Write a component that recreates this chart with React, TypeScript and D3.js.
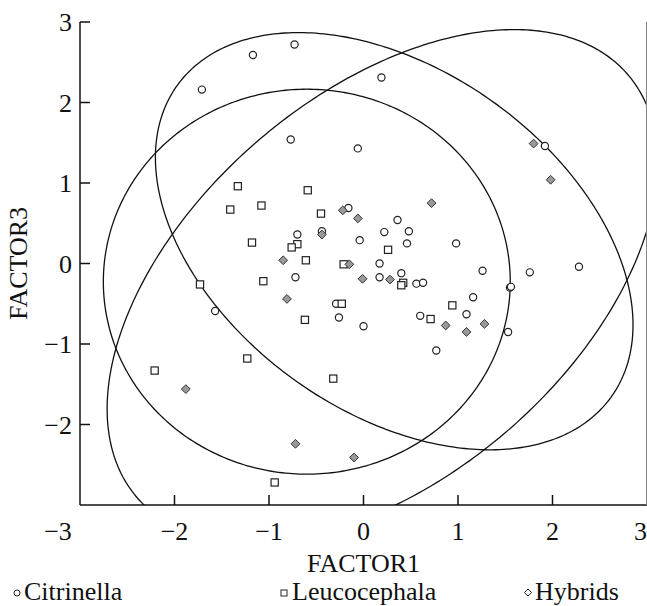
import React from "react";
import * as d3 from "d3";

const W = 647;
const H = 606;

// Citrinella (circles)
const citrinellaX = [-1.71, -1.17, -0.73, 0.19, -0.77, -0.06, 1.92, -0.16, 0.36, -0.70, -0.44, 0.22, 0.48, -0.04, 0.46, 0.98, 0.17, -0.72, 0.17, 0.40, 0.56, 0.63, 1.26, 1.76, 2.28, 1.55, 1.56, 1.16, 1.09, 0.60, -0.29, -0.26, 0.00, 0.77, 1.53, -1.57];
const citrinellaY = [2.16, 2.59, 2.72, 2.31, 1.54, 1.43, 1.46, 0.69, 0.54, 0.36, 0.40, 0.39, 0.40, 0.29, 0.25, 0.25, 0.00, -0.17, -0.17, -0.12, -0.25, -0.24, -0.09, -0.11, -0.04, -0.30, -0.29, -0.42, -0.63, -0.65, -0.50, -0.67, -0.78, -1.08, -0.85, -0.59];

// Leucocephala (squares)
const leucoX = [-1.33, -0.59, -1.41, -1.08, -0.45, -1.18, -0.70, -0.76, -0.61, -0.21, -1.06, 0.26, 0.42, 0.40, 0.94, 0.71, -0.23, -0.62, -1.73, -1.23, -2.21, -0.32, -0.94];
const leucoY = [0.96, 0.91, 0.67, 0.72, 0.62, 0.26, 0.24, 0.20, 0.04, -0.01, -0.22, 0.17, -0.24, -0.27, -0.52, -0.69, -0.50, -0.70, -0.26, -1.18, -1.33, -1.43, -2.72];

// Hybrids (diamonds)
const hybridX = [1.80, 1.98, 0.72, -0.22, -0.06, -0.44, -0.85, -0.15, -0.01, 0.28, -0.81, 0.87, 1.09, 1.28, -1.88, -0.72, -0.10];
const hybridY = [1.49, 1.04, 0.75, 0.66, 0.56, 0.36, 0.04, -0.01, -0.19, -0.20, -0.44, -0.77, -0.85, -0.75, -1.56, -2.24, -2.41];

// Ellipses (data units): center, semi-axes, rotation (deg)
const ellCx = [0.325, -0.60, 0.2];
const ellCy = [0.277, -0.226, -0.28];
const ellA = [3.03, 2.153, 3.72];
const ellB = [1.98, 2.391, 2.19];
const ellAngle = [-46.8, 0, 50.3];

const xTicks = [-3, -2, -1, 0, 1, 2, 3];
const xTickLabels = ["\u22123", "\u22122", "\u22121", "0", "1", "2", "3"];
const yTicks = [-2, -1, 0, 1, 2, 3];
const yTickLabels = ["\u22122", "\u22121", "0", "1", "2", "3"];

const legendNames = ["Citrinella", "Leucocephala", "Hybrids"];

const FONT = "'Liberation Serif', 'Times New Roman', serif";

export default function App() {
  const left = 80, right = 647, top = 22, bottom = 505;
  const x = d3.scaleLinear().domain([-3, 3]).range([left, right]);
  const y = d3.scaleLinear().domain([-3, 3]).range([bottom, top]);

  const line = d3.line<[number, number]>().x(d => x(d[0])).y(d => y(d[1])).curve(d3.curveLinearClosed);
  const ellipsePaths = ellCx.map((cx, i) => {
    const th = (ellAngle[i] * Math.PI) / 180;
    const pts: [number, number][] = d3.range(0, 360, 1).map(deg => {
      const t = (deg * Math.PI) / 180;
      const ex = ellA[i] * Math.cos(t);
      const ey = ellB[i] * Math.sin(t);
      return [cx + ex * Math.cos(th) - ey * Math.sin(th), ellCy[i] + ex * Math.sin(th) + ey * Math.cos(th)];
    });
    return line(pts) as string;
  });

  const r = 3.6;
  const sq = 7.2;
  const dm = 4.4;

  const legendItems = [
    { name: legendNames[0], mx: 17, tx: 24 },
    { name: legendNames[1], mx: 284, tx: 292 },
    { name: legendNames[2], mx: 528, tx: 535 },
  ];
  const legendBase = 600;
  const ink = "#111";

  return (
    <svg width={W} height={H} style={{ position: "absolute", left: 0, top: 0, background: "#fff" }} fontFamily={FONT}>
      <defs>
        <clipPath id="plotclip">
          <rect x={left} y={0} width={right - 1 - left} height={bottom} />
        </clipPath>
      </defs>
      <rect x={0} y={0} width={W} height={H} fill="#fff" />

      {/* ellipses */}
      <g clipPath="url(#plotclip)">
        {ellipsePaths.map((p, i) => (
          <path key={i} d={p} fill="none" stroke={ink} strokeWidth={1.3} />
        ))}
      </g>

      {/* axes */}
      <line x1={left} x2={left} y1={top} y2={bottom} stroke={ink} strokeWidth={1.5} />
      <line x1={left} x2={right} y1={bottom} y2={bottom} stroke={ink} strokeWidth={1.5} />
      <line x1={right - 0.5} x2={right - 0.5} y1={top} y2={bottom} stroke="#888" strokeWidth={1} />

      {yTicks.map((t, i) => (
        <g key={"y" + t}>
          <line x1={left} x2={left + 10} y1={y(t)} y2={y(t)} stroke={ink} strokeWidth={1.5} />
          <text x={72} y={y(t)} dy="0.35em" textAnchor="end" fontSize={26} fill={ink}>{yTickLabels[i]}</text>
        </g>
      ))}
      {xTicks.map((t, i) => (
        <g key={"x" + t}>
          {t > -3 && t < 3 && (
            <line x1={x(t)} x2={x(t)} y1={bottom} y2={bottom - 10} stroke={ink} strokeWidth={1.5} />
          )}
          <text
            x={t === -3 ? x(t) - 22 : t === 3 ? right : x(t)}
            y={540}
            textAnchor={t === 3 ? "end" : "middle"}
            fontSize={26}
            fill={ink}
          >
            {xTickLabels[i]}
          </text>
        </g>
      ))}

      <text x={x(0)} y={572} textAnchor="middle" fontSize={26} fill={ink}>FACTOR1</text>
      <text transform={`translate(27, ${y(0)}) rotate(-90)`} textAnchor="middle" fontSize={26} fill={ink}>FACTOR3</text>

      {/* points */}
      {citrinellaX.map((v, i) => (
        <circle key={"c" + i} cx={x(v)} cy={y(citrinellaY[i])} r={r} fill="#fff" stroke="#222" strokeWidth={1.2} />
      ))}
      {leucoX.map((v, i) => (
        <rect key={"s" + i} x={x(v) - sq / 2} y={y(leucoY[i]) - sq / 2} width={sq} height={sq} fill="#fff" stroke="#222" strokeWidth={1.2} />
      ))}
      {hybridX.map((v, i) => {
        const cx = x(v), cy = y(hybridY[i]);
        return (
          <path key={"d" + i} d={`M${cx},${cy - dm}L${cx + dm},${cy}L${cx},${cy + dm}L${cx - dm},${cy}Z`} fill="#999" stroke="#333" strokeWidth={1} />
        );
      })}

      {/* legend */}
      {legendItems.map((it, i) => (
        <g key={"l" + i}>
          {i === 0 && <circle cx={it.mx} cy={legendBase - 7} r={3} fill="#fff" stroke="#222" strokeWidth={1} />}
          {i === 1 && <rect x={it.mx - 3} y={legendBase - 10} width={6} height={6} fill="#fff" stroke="#222" strokeWidth={1} />}
          {i === 2 && (
            <path d={`M${it.mx},${legendBase - 11}L${it.mx + 3.5},${legendBase - 7.5}L${it.mx},${legendBase - 4}L${it.mx - 3.5},${legendBase - 7.5}Z`} fill="#fff" stroke="#222" strokeWidth={1} />
          )}
          <text x={it.tx} y={legendBase} fontSize={26} fill={ink}>{it.name}</text>
        </g>
      ))}
    </svg>
  );
}
